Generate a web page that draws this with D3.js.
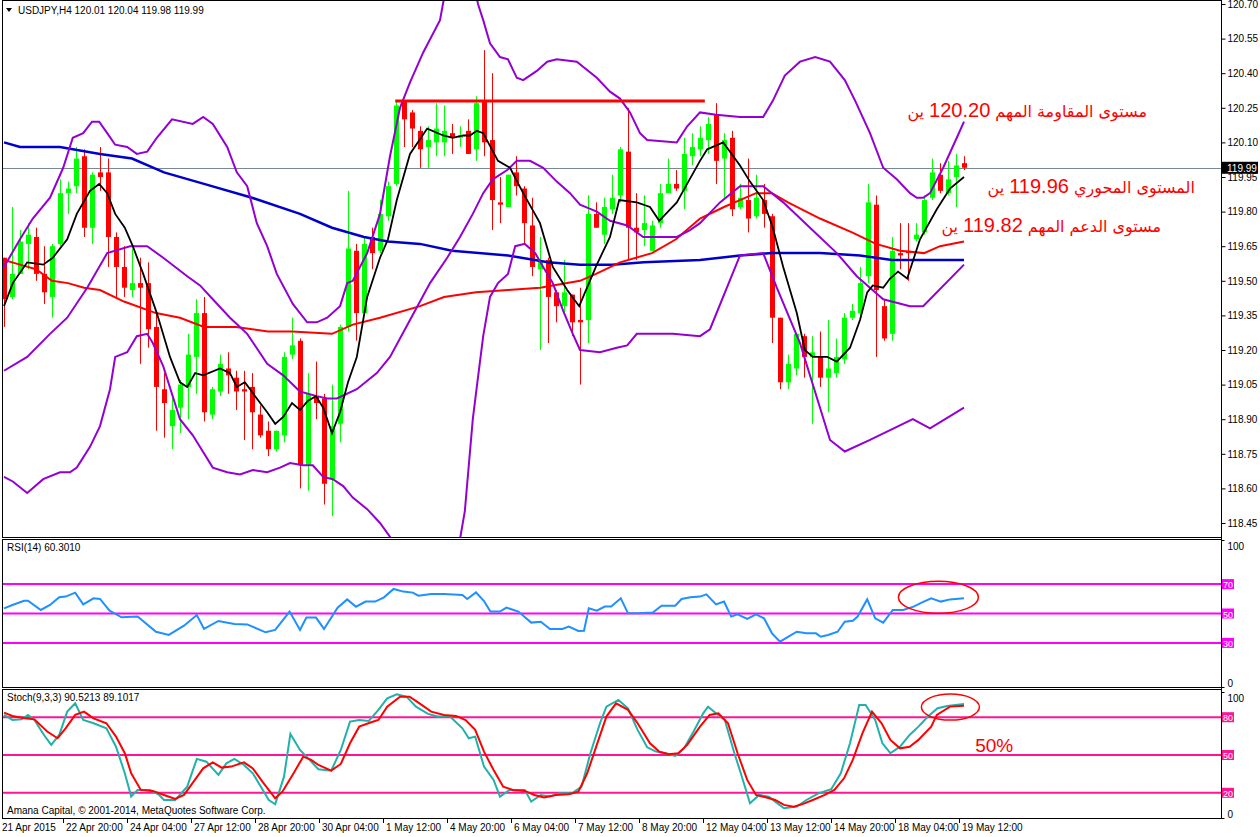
<!DOCTYPE html>
<html>
<head>
<meta charset="utf-8">
<script src="https://cdn.jsdelivr.net/npm/d3@7"></script>
<style>
  body { margin: 0; background: #fff; }
  svg { display: block; font-family: "Liberation Sans", Arial, sans-serif; }
</style>
</head>
<body>
<svg id="chart" width="1260" height="837"></svg>
<script>
// USDJPY H4 candles, bar 0 = 21 Apr 2015
const opens = [119.60,119.43,119.53,119.66,119.69,119.53,119.43,119.66,119.88,119.91,120.04,119.73,119.97,119.97,119.69,119.56,119.46,119.49,119.49,119.30,
  119.03,118.87,118.95,119.04,119.17,119.36,118.92,119.02,119.12,119.08,119.03,119.04,118.92,118.85,118.77,118.83,119.18,119.24,118.70,119.00,
  118.99,118.64,118.88,119.30,119.63,119.36,119.69,119.63,119.78,119.92,120.28,120.23,120.15,120.08,120.10,120.10,120.14,120.12,120.15,120.07,
  120.28,120.11,119.84,119.82,119.97,119.90,119.74,119.55,119.59,119.45,119.39,119.44,119.33,119.33,119.79,119.70,119.81,119.87,120.06,119.73,
  119.72,119.63,119.75,119.88,119.92,119.89,120.04,120.07,120.11,120.22,120.03,120.12,119.82,119.85,119.78,119.85,119.78,119.34,119.06,119.12,
  119.26,119.17,119.17,119.08,119.10,119.16,119.34,119.36,119.52,119.83,119.39,119.27,119.62,119.63,119.68,119.71,119.86,119.96,119.88,119.95,120.01];
const highs = [119.60,119.82,119.72,119.75,119.73,119.65,119.66,119.94,119.93,120.08,120.07,119.97,120.08,120.03,119.71,119.65,119.64,119.60,119.58,119.36,
  119.10,118.99,119.07,119.27,119.42,119.43,119.04,119.18,119.19,119.11,119.11,119.10,118.96,118.89,118.85,119.19,119.34,119.25,119.10,119.15,
  119.01,119.05,119.31,119.89,119.66,119.69,119.73,119.85,119.93,120.28,120.28,120.24,120.17,120.17,120.27,120.26,120.18,120.17,120.20,120.30,
  120.50,120.40,119.95,119.96,120.04,119.91,119.86,119.69,119.60,119.46,119.59,119.44,119.47,119.87,119.84,119.86,119.96,120.08,120.25,119.88,
  119.87,119.76,119.92,120.03,119.98,120.12,120.14,120.17,120.21,120.27,120.14,120.15,119.92,120.03,119.96,119.92,119.79,119.34,119.18,119.27,
  119.27,119.26,119.28,119.33,119.25,119.36,119.40,119.56,119.92,119.87,119.42,119.69,119.75,119.75,119.75,119.87,120.03,120.01,120.02,120.05,120.04];
const lows = [119.30,119.42,119.53,119.55,119.50,119.40,119.34,119.65,119.79,119.88,119.69,119.66,119.89,119.56,119.43,119.43,119.43,119.14,119.21,118.85,
  118.82,118.77,118.84,118.90,119.01,118.89,118.90,119.00,119.01,118.94,118.81,118.77,118.82,118.74,118.76,118.80,119.16,118.60,118.59,118.90,
  118.53,118.48,118.80,119.28,119.24,119.36,119.55,119.62,119.76,119.91,120.08,120.08,119.99,119.99,120.04,120.04,120.05,120.08,120.05,120.02,
  120.04,119.72,119.75,119.82,119.87,119.66,119.52,119.20,119.23,119.32,119.36,119.26,119.05,119.23,119.73,119.66,119.79,119.84,119.59,119.59,
  119.65,119.63,119.73,119.88,119.89,119.81,120.00,120.04,120.05,119.92,119.86,119.78,119.81,119.71,119.77,119.73,119.23,119.03,119.03,119.09,
  119.08,118.88,119.04,118.93,119.08,119.14,119.33,119.33,119.49,119.17,119.24,119.24,119.55,119.50,119.67,119.70,119.85,119.88,119.87,119.82,119.98];
const closes = [119.42,119.53,119.67,119.70,119.53,119.45,119.65,119.88,119.90,120.03,119.73,119.96,119.95,119.69,119.56,119.47,119.49,119.47,119.29,119.04,
  118.97,118.94,119.05,119.18,119.36,118.93,119.03,119.14,119.09,119.02,119.02,118.93,118.83,118.77,118.85,119.17,119.22,118.70,119.01,118.97,
  118.62,118.87,119.30,119.64,119.36,119.66,119.62,119.79,119.91,120.26,120.20,120.16,120.07,120.11,120.16,120.15,120.12,120.13,120.05,120.27,
  120.10,119.85,119.83,119.96,119.91,119.75,119.56,119.59,119.43,119.39,119.45,119.32,119.32,119.79,119.73,119.82,119.86,120.07,119.73,119.71,
  119.75,119.74,119.88,119.92,119.90,120.05,120.08,120.12,120.18,120.02,120.11,119.81,119.86,119.77,119.86,119.79,119.34,119.06,119.14,119.27,
  119.17,119.19,119.08,119.12,119.17,119.34,119.37,119.49,119.84,119.46,119.25,119.63,119.61,119.62,119.70,119.85,119.97,119.89,119.94,120.00,119.99];

// indicator lines, read as [bar, value]
const fastMa = [[0,119.39],[1.1,119.49],[2.9,119.58],[4.9,119.57],[6.1,119.60],[7.9,119.68],[9.1,119.79],[10.75,119.89],[11.9,119.92],[12.9,119.88],
  [13.9,119.79],[15.1,119.73],[16.1,119.65],[17.4,119.53],[19.1,119.36],[20.75,119.17],[22,119.06],[22.9,119.04],[23.9,119.10],[24.9,119.09],
  [27,119.12],[28.25,119.10],[29.1,119.04],[30.1,119.06],[31.6,118.99],[32.9,118.93],[33.9,118.88],[34.9,118.91],[36,118.97],[37,118.94],
  [38,118.98],[39,119.00],[39.9,118.95],[41,118.84],[42,118.93],[43,119.06],[44.1,119.17],[45.4,119.43],[47,119.60],[48,119.68],
  [49.1,119.85],[50.75,120.05],[52.9,120.16],[54.9,120.13],[56.1,120.12],[57.4,120.13],[58.25,120.13],[59.1,120.15],[59.9,120.14],[61.75,120.02],
  [63.25,119.99],[64.9,119.88],[67,119.75],[68.6,119.56],[70.4,119.46],[71.9,119.39],[74.1,119.57],[75.75,119.69],[76.9,119.85],[79.1,119.84],
  [80.75,119.82],[81.9,119.76],[84.1,119.84],[84.9,119.89],[87,120.02],[87.9,120.07],[89.9,120.10],[92,120.00],[93.25,119.93],[94.9,119.85],
  [96.1,119.73],[97.4,119.56],[99.1,119.36],[100.1,119.20],[101.1,119.17],[102.9,119.17],[104.1,119.15],[105.75,119.21],[107,119.33],[107.9,119.45],
  [108.6,119.48],[109.9,119.47],[110.75,119.51],[111.75,119.54],[112.9,119.51],[114.5,119.68],[116.6,119.81],[118.25,119.90],[120,119.95]];
const midMa = [[0,119.59],[2,119.57],[4,119.55],[6,119.50],[8,119.49],[10,119.47],[12,119.46],[15,119.41],[19,119.36],[22,119.34],
  [25,119.30],[29,119.30],[33,119.28],[36,119.28],[41,119.27],[43.6,119.31],[47,119.34],[52,119.39],[55,119.43],[59,119.45],
  [63,119.46],[67,119.47],[72,119.50],[74,119.53],[77,119.58],[81,119.62],[84,119.68],[87,119.77],[90,119.82],[94,119.88],
  [96,119.88],[98,119.84],[102,119.77],[106,119.71],[109,119.66],[112,119.63],[115,119.62],[117,119.65],[120,119.67]];
const slowMa = [[0,120.10],[2,120.08],[7,120.08],[12,120.05],[16,120.03],[20,119.97],[25,119.92],[31,119.86],[37,119.79],[41,119.73],
  [45,119.69],[48,119.67],[52,119.66],[56,119.63],[63,119.61],[68,119.58],[72,119.57],[76,119.57],[80,119.58],[87,119.59],
  [92,119.61],[96,119.62],[102,119.62],[107,119.61],[111,119.59],[120,119.59]];
const bbUpper = [[0,119.56],[2,119.68],[3.6,119.77],[5.75,119.86],[7.4,119.99],[8.6,120.12],[9.9,120.14],[11,120.19],[11.9,120.19],[12.9,120.14],
  [13.9,120.09],[15.4,120.08],[16.6,120.05],[17.9,120.06],[19.1,120.12],[21,120.20],[23.6,120.18],[24.9,120.21],[26.1,120.18],[27.9,120.08],
  [29.1,119.97],[30.4,119.91],[31.6,119.75],[32.9,119.65],[34.1,119.53],[36.1,119.40],[37.9,119.32],[39.1,119.32],[40.4,119.34],[42,119.39],
  [42.9,119.49],[43.6,119.50],[45.4,119.62],[47,119.79],[48.25,120.04],[49.5,120.25],[50.75,120.36],[52.4,120.49],[54.5,120.63],[55.5,120.82],
  [56.5,120.95],[57.5,120.95],[58.5,120.82],[59.25,120.70],[59.9,120.63],[60.75,120.53],[62,120.47],[63,120.46],[64.1,120.38],[64.9,120.37],
  [66.6,120.41],[67.9,120.45],[69.1,120.46],[71.6,120.45],[74.1,120.38],[75.75,120.32],[77,120.29],[78.25,120.23],[79.5,120.14],[80.4,120.11],
  [84.1,120.10],[85.4,120.17],[87,120.23],[89,120.22],[92,120.21],[94.9,120.21],[96.1,120.28],[97.6,120.39],[99.5,120.45],[101.4,120.47],
  [103.25,120.45],[105.1,120.37],[106.4,120.28],[108.25,120.14],[109.9,119.99],[111.6,119.94],[113.25,119.88],[114.1,119.86],[114.9,119.86],[115.75,119.88],
  [117.4,119.99],[119.1,120.12],[120,120.19]];
const bbMiddle = [[0,119.11],[2.9,119.17],[5.75,119.27],[7.9,119.34],[10.4,119.47],[12.9,119.62],[15.75,119.65],[17.9,119.65],[19.9,119.60],[22.9,119.52],
  [24.5,119.48],[26.1,119.42],[28.25,119.34],[30.4,119.27],[32.9,119.14],[34.9,119.09],[37,119.02],[39.1,119.00],[40.4,118.99],[41.6,118.99],
  [44.1,119.03],[46.6,119.10],[48.25,119.17],[50.75,119.33],[53.25,119.49],[55.4,119.60],[57,119.69],[58.6,119.79],[59.9,119.88],[61.1,119.94],
  [62.9,119.98],[64.1,120.02],[65.75,120.02],[67.4,119.99],[69.1,119.93],[70.75,119.88],[72,119.83],[74.1,119.80],[75.75,119.76],[77.9,119.74],
  [79.9,119.69],[82.4,119.69],[84.1,119.69],[85.75,119.72],[87,119.75],[89.5,119.84],[92,119.91],[94.9,119.91],[97.4,119.84],[100.75,119.73],
  [104.1,119.62],[106.6,119.52],[109.9,119.42],[113.25,119.39],[114.9,119.39],[120,119.57]];
const bbLower = [[0,118.65],[1.1,118.63],[2.9,118.58],[4.9,118.64],[7,118.67],[8.25,118.67],[9.1,118.69],[10.75,118.78],[12,118.87],[13.25,119.03],
  [13.9,119.17],[15.4,119.19],[16.6,119.26],[17.9,119.27],[18.6,119.23],[19.9,119.13],[22,118.90],[23.6,118.83],[26.1,118.69],[27.9,118.67],
  [29.5,118.66],[31.1,118.68],[32.9,118.67],[34.5,118.69],[35.75,118.71],[37.4,118.70],[38.6,118.70],[39.9,118.65],[41.1,118.64],[42.4,118.61],
  [43.6,118.56],[45.4,118.51],[47,118.45],[48.25,118.39],[49.5,118.32],[51,118.22],[53,118.15],[55,118.15],[56.5,118.28],[57.6,118.50],
  [58.6,118.90],[59.1,119.04],[59.9,119.26],[60.75,119.43],[61.75,119.49],[63,119.53],[63.9,119.65],[65.1,119.66],[66.4,119.62],[67.4,119.56],
  [68.6,119.49],[69.9,119.37],[71.1,119.27],[72,119.20],[74.5,119.19],[76.6,119.21],[77.9,119.22],[79.1,119.27],[80.4,119.27],[83.6,119.27],
  [87,119.26],[88.25,119.29],[92,119.61],[94.9,119.62],[96.6,119.47],[99.5,119.23],[103.25,118.81],[105.1,118.76],[108.25,118.81],[113.6,118.90],
  [115.75,118.86],[120,118.95]];

const rsi = [[0,53.5],[1.06,55.8],[2.5,58.7],[3,58.7],[4.6,52.4],[5.75,55.8],[6.9,61.0],[7.7,61.5],[8.9,64.2],[9.9,56.2],
  [11.2,60.3],[12,59.9],[13.2,51.9],[14.7,47.4],[16.7,47.9],[19,37.6],[20.6,35.4],[22.5,41.7],[24.1,49.0],[25,39.5],
  [26.8,44.9],[28.8,42.9],[30.4,42.6],[32.7,37.2],[33.9,38.8],[35.7,51.3],[37,38.8],[37.8,47.2],[39,47.2],[40,39.5],
  [41.7,54.0],[42.9,59.6],[44,54.6],[45.2,58.1],[46.4,58.1],[47.5,61.0],[48.7,66.7],[49.9,64.9],[51.1,64.2],[51.8,62.1],
  [53.4,63.3],[55,63.3],[57.3,62.6],[57.9,59.9],[59,64.4],[60,58.5],[60.8,51.3],[62,51.3],[62.8,54.0],[64.3,51.3],
  [65.9,43.8],[67.1,44.4],[68.25,39.5],[69.8,39.5],[70.6,41.1],[71.8,38.1],[72.5,38.3],[73.1,53.5],[74.1,51.9],[75.1,54.7],
  [75.9,54.7],[77.1,60.3],[78,50.1],[79.2,50.1],[81.1,50.6],[82.2,55.3],[83.9,55.3],[84.7,59.9],[85.8,61.0],[87,61.5],
  [87.8,63.0],[89,56.2],[90,58.1],[90.9,47.9],[91.7,49.4],[92.9,46.3],[94,49.4],[95,46.7],[96,36.5],[97,30.8],
  [97.9,33.8],[99.1,37.6],[100.3,36.5],[101.5,36.5],[102.1,34.2],[103,35.4],[104.2,37.6],[105.1,44.4],[106.1,45.1],[106.7,47.9],
  [107.9,59.6],[108.9,46.7],[109.9,43.8],[111.1,52.4],[112.4,52.4],[113.7,54.7],[114.7,57.4],[115.9,60.3],[117.1,58.1],[118.25,59.6],[120,60.3]];

const stochMain = [[0,81.8],[1.06,77.8],[2.2,78.3],[3,81.8],[3.8,77.8],[5,65.9],[5.9,58.0],[6.9,65.9],[7.9,84.4],[8.9,91.0],
  [9.9,77.8],[11.2,75.2],[12.8,71.2],[14,56.6],[15.1,35.5],[15.9,17.0],[16.7,22.3],[18.25,22.3],[19.4,18.3],[20,14.3],
  [21.4,14.3],[22.9,24.9],[24.1,46.9],[25.3,44.7],[26.8,34.2],[27.8,43.4],[28.8,46.9],[30,42.1],[31.1,35.5],[33.1,14.3],
  [33.9,10.9],[35,32.8],[35.8,66.7],[37,54.0],[38.2,46.1],[39.3,38.7],[40.9,37.6],[42.1,54.0],[43.25,76.5],[44.4,77.8],
  [45.6,77.0],[46.8,85.8],[47.9,95.0],[49.1,98.2],[50.3,96.3],[51.5,88.4],[53,82.6],[54.2,80.5],[55.75,80.5],[57.3,71.2],
  [58.1,63.3],[58.9,64.6],[60,40.8],[61.2,30.2],[62,17.0],[63.2,22.3],[65.1,22.3],[65.9,13.0],[67.1,18.3],[68.25,17.0],
  [69.4,19.6],[71,19.6],[72.2,24.9],[73.3,51.4],[74.5,75.2],[75.3,88.4],[76.8,93.7],[78,87.1],[79.2,69.9],[80.4,56.1],
  [81.5,52.7],[82.7,51.4],[83.9,49.2],[85,55.3],[86.2,68.6],[87.4,83.1],[88,88.4],[89,83.1],[90.1,77.8],[91.3,51.4],
  [92.1,35.5],[93.25,11.7],[94.4,18.3],[95.6,17.0],[96.4,13.0],[97.5,7.7],[99.1,9.0],[100.3,14.3],[101.8,19.6],[103.4,22.8],
  [104.6,35.5],[105.75,59.3],[106.9,89.7],[107.7,89.7],[108.9,77.8],[109.8,59.3],[110.8,51.4],[112,56.6],[113.2,65.9],[114.3,72.5],
  [115.5,80.5],[116.7,87.1],[117.9,88.9],[120,90.5]];
const stochSignal = [[0,83.6],[1.06,81.0],[2.6,79.1],[3.8,78.3],[5.4,68.6],[6.7,63.3],[7.7,71.2],[8.9,81.8],[10,84.4],[11.2,79.1],
  [12.8,75.2],[14,64.6],[15.1,51.4],[15.9,35.5],[17.1,22.3],[18.6,21.5],[20,18.3],[21.4,15.1],[22.5,18.3],[23.7,28.9],
  [24.9,39.4],[26.1,44.2],[27.2,40.0],[28.4,40.8],[30,44.2],[31.1,39.4],[32.3,28.9],[33.9,15.6],[34.8,20.9],[36.2,35.5],
  [37.4,48.7],[38.4,46.1],[39.3,42.1],[40.9,37.6],[42.1,42.9],[43.25,59.3],[44.4,72.5],[46,76.2],[46.8,77.8],[47.9,88.4],
  [49.5,96.3],[50.7,96.3],[51.8,91.6],[53.4,84.4],[55,81.8],[56.5,81.0],[57.7,77.8],[58.9,69.9],[60,52.7],[61.2,38.1],
  [62.4,24.9],[63.6,22.3],[65.1,21.5],[66.3,18.3],[67.5,16.2],[69,18.3],[70.6,18.8],[71.8,20.9],[72.9,35.5],[74.1,58.0],
  [75.3,80.5],[76.5,91.0],[78,85.8],[79.2,75.2],[80.75,59.3],[81.9,52.7],[83.1,50.6],[84.3,51.4],[85.4,58.0],[87,72.5],
  [88.2,81.8],[89.3,83.1],[90.5,75.2],[91.7,51.4],[92.9,30.2],[94,18.3],[95.2,16.4],[96.4,14.3],[97.5,10.4],[98.7,9.0],
  [99.9,11.2],[101.1,14.3],[102.6,18.3],[103.8,22.3],[105,31.5],[106.1,46.1],[107.3,67.2],[108.5,84.4],[109.7,75.2],[110.8,62.0],
  [112,55.3],[113.2,56.6],[114.3,62.0],[115.9,72.5],[116.6,81.8],[118.25,88.4],[120,89.1]];

const priceTicks = [120.70,120.55,120.40,120.25,120.10,119.95,119.80,119.65,119.50,119.35,119.20,119.05,118.90,118.75,118.60,118.45];
const rsiLevels = [70, 50, 30];
const stochLevels = [80, 50, 20];
const timeBars = [0,8,16,24,32,40,48,56,64,72,80,88,96,104,112,120];
const timeLabels = ["21 Apr 2015","22 Apr 20:00","24 Apr 04:00","27 Apr 12:00","28 Apr 20:00","30 Apr 04:00","1 May 12:00","4 May 20:00",
  "6 May 04:00","7 May 12:00","8 May 20:00","12 May 04:00","13 May 12:00","14 May 20:00","18 May 04:00","19 May 12:00"];
const bidPrice = 119.99;
const resistance = { from: 48.9, to: 87.6, price: 120.28 };
const notes = [
  { label: "مستوى المقاومة المهم", value: "120.20", unit: "ين", bar: 127.9, price: 120.21 },
  { label: "المستوى المحوري", value: "119.96", unit: "ين", bar: 135.9, price: 119.88 },
  { label: "مستوى الدعم المهم", value: "119.82", unit: "ين", bar: 130.9, price: 119.71 }
];

const svg = d3.select("#chart");
const left = 2, right = 1221;
const x = d3.scaleLinear().domain([-0.25, 152.125]).range([left, right]);
const y = d3.scaleLinear().domain([118.45, 120.70]).range([523, 4]);
const yRsi = d3.scaleLinear().domain([0, 100]).range([687, 540]);
const ySto = d3.scaleLinear().domain([0, 100]).range([818, 692]);

const panels = [
  { id: "clipMain", top: 0, bottom: 537 },
  { id: "clipRsi", top: 539, bottom: 687 },
  { id: "clipSto", top: 689, bottom: 818 }
];
const defs = svg.append("defs");
panels.forEach(p => {
  defs.append("clipPath").attr("id", p.id).append("rect")
    .attr("x", left).attr("y", p.top).attr("width", right - left).attr("height", p.bottom - p.top);
});

const line = (ys) => d3.line().x(d => x(d[0])).y(d => ys(d[1]));

// ---- main panel ----
const main = svg.append("g").attr("clip-path", "url(#clipMain)");

main.append("line")
  .attr("x1", left).attr("x2", right)
  .attr("y1", Math.round(y(bidPrice)) + 0.5).attr("y2", Math.round(y(bidPrice)) + 0.5)
  .attr("stroke", "#778899").attr("stroke-width", 1);

const idx = d3.range(opens.length);
const up = i => closes[i] >= opens[i];
const col = i => up(i) ? "#00ff00" : "#ff0000";

main.selectAll("line.wick").data(idx).join("line")
  .attr("class", "wick")
  .attr("x1", i => x(i) + 0.5).attr("x2", i => x(i) + 0.5)
  .attr("y1", i => y(highs[i])).attr("y2", i => y(lows[i]))
  .attr("stroke", col).attr("stroke-width", 1);

main.selectAll("rect.body").data(idx).join("rect")
  .attr("class", "body")
  .attr("x", i => x(i) - 2)
  .attr("width", 5)
  .attr("y", i => y(Math.max(opens[i], closes[i])))
  .attr("height", i => Math.max(1.5, Math.abs(y(opens[i]) - y(closes[i]))))
  .attr("fill", col);

main.append("path").datum(slowMa).attr("d", line(y))
  .attr("fill", "none").attr("stroke", "#0000cd").attr("stroke-width", 2.5);
main.append("path").datum(midMa).attr("d", line(y))
  .attr("fill", "none").attr("stroke", "#ff0000").attr("stroke-width", 2);
[bbUpper, bbMiddle, bbLower].forEach(s => {
  main.append("path").datum(s).attr("d", line(y))
    .attr("fill", "none").attr("stroke", "#9400d3").attr("stroke-width", 2);
});
main.append("path").datum(fastMa).attr("d", line(y))
  .attr("fill", "none").attr("stroke", "#000").attr("stroke-width", 1.8);

main.append("line")
  .attr("x1", x(resistance.from)).attr("x2", x(resistance.to))
  .attr("y1", y(resistance.price)).attr("y2", y(resistance.price))
  .attr("stroke", "#ff0000").attr("stroke-width", 3);

// Arabic notes: word part smaller, number larger
const noteText = svg.append("g").selectAll("text.note").data(notes).join("text")
  .attr("class", "note")
  .attr("x", d => x(d.bar)).attr("y", d => y(d.price))
  .attr("text-anchor", "middle")
  .attr("direction", "rtl")
  .attr("fill", "#ff0000");
noteText.append("tspan")
  .style("font-family", "'DejaVu Sans', sans-serif").style("font-size", "16px")
  .text(d => d.label + " ");
noteText.append("tspan")
  .style("font-family", "'Liberation Sans', Arial, sans-serif").style("font-size", "20px")
  .text(d => d.value);
noteText.append("tspan")
  .style("font-family", "'DejaVu Sans', sans-serif").style("font-size", "16px")
  .text(d => " " + d.unit);

// header
svg.append("path").attr("d", "M6,8 L12,8 L9,12 Z").attr("fill", "#000");
svg.append("text").attr("x", 18).attr("y", 14).style("font-size", "10px")
  .text("USDJPY,H4  120.01 120.04 119.98 119.99");

// ---- RSI panel ----
const rsiG = svg.append("g").attr("clip-path", "url(#clipRsi)");
rsiG.selectAll("line.lvl").data(rsiLevels).join("line")
  .attr("x1", left).attr("x2", right)
  .attr("y1", d => yRsi(d)).attr("y2", d => yRsi(d))
  .attr("stroke", "#ff00ff").attr("stroke-width", 2);
rsiG.append("path").datum(rsi).attr("d", line(yRsi))
  .attr("fill", "none").attr("stroke", "#1e90ff").attr("stroke-width", 2);
svg.append("text").attr("x", 7).attr("y", 551).style("font-size", "10px").text("RSI(14) 60.3010");

// ---- Stochastic panel ----
const stoG = svg.append("g").attr("clip-path", "url(#clipSto)");
stoG.selectAll("line.lvl").data(stochLevels).join("line")
  .attr("x1", left).attr("x2", right)
  .attr("y1", d => ySto(d)).attr("y2", d => ySto(d))
  .attr("stroke", "#ff1493").attr("stroke-width", 2);
stoG.append("path").datum(stochMain).attr("d", line(ySto))
  .attr("fill", "none").attr("stroke", "#20b2aa").attr("stroke-width", 2);
stoG.append("path").datum(stochSignal).attr("d", line(ySto))
  .attr("fill", "none").attr("stroke", "#ff0000").attr("stroke-width", 2);
svg.append("text").attr("x", 7).attr("y", 701).style("font-size", "10px").text("Stoch(9,3,3) 90.5213 89.1017");
svg.append("text").attr("x", 7).attr("y", 814).style("font-size", "10px")
  .text("Amana Capital, © 2001-2014, MetaQuotes Software Corp.");

// annotation marks
svg.append("ellipse").attr("cx", x(116.8)).attr("cy", yRsi(61)).attr("rx", 40).attr("ry", 16)
  .attr("fill", "none").attr("stroke", "#ff0000").attr("stroke-width", 1.5);
svg.append("ellipse").attr("cx", x(118.3)).attr("cy", ySto(88)).attr("rx", 29).attr("ry", 13)
  .attr("fill", "none").attr("stroke", "#ff0000").attr("stroke-width", 1.5);
svg.append("text").attr("x", x(121.4)).attr("y", ySto(50) - 3).attr("fill", "#ff0000")
  .style("font-size", "19px").text("50%");

// ---- frames ----
panels.forEach(p => {
  svg.append("rect").attr("x", left + 0.5).attr("y", p.top + 0.5)
    .attr("width", right - left).attr("height", p.bottom - p.top)
    .attr("fill", "none").attr("stroke", "#000").attr("stroke-width", 1);
});

// ---- right axes ----
const axisFont = g => g.call(s => s.select(".domain").remove())
  .call(s => s.selectAll("text").style("font-size", "10px").attr("fill", "#000").attr("x", 6))
  .call(s => s.selectAll("line").attr("stroke", "#000"));

svg.append("g").attr("transform", `translate(${right + 0.5},0)`)
  .call(d3.axisRight(y).tickValues(priceTicks).tickFormat(d3.format(".2f")).tickSize(4))
  .call(axisFont);

svg.append("g").attr("transform", `translate(${right + 0.5},0)`)
  .call(d3.axisRight(yRsi).tickValues([100, 0]).tickSize(3))
  .call(axisFont)
  .call(s => s.selectAll("text").attr("dy", d => d === 100 ? "0.9em" : "-0.1em"));
svg.append("g").attr("transform", `translate(${right + 0.5},0)`)
  .call(d3.axisRight(ySto).tickValues([100, 0]).tickSize(3))
  .call(axisFont)
  .call(s => s.selectAll("text").attr("dy", d => d === 100 ? "0.9em" : "-0.1em"));

function levelTags(levels, ys, color) {
  const g = svg.append("g");
  g.selectAll("rect").data(levels).join("rect")
    .attr("x", right + 1).attr("y", d => ys(d) - 5).attr("width", 12).attr("height", 10)
    .attr("fill", color);
  g.selectAll("text").data(levels).join("text")
    .attr("x", right + 2).attr("y", d => ys(d) + 4)
    .attr("fill", "#fff").style("font-size", "9px").text(d => d);
}
levelTags(rsiLevels, yRsi, "#ff00ff");
levelTags(stochLevels, ySto, "#ff1493");

// bid tag
svg.append("rect").attr("x", right + 1).attr("y", y(bidPrice) - 6).attr("width", 36).attr("height", 12).attr("fill", "#000");
svg.append("text").attr("x", right + 6).attr("y", y(bidPrice) + 4).attr("fill", "#fff")
  .style("font-size", "10px").text(bidPrice.toFixed(2));

svg.append("line").attr("x1", right + 0.5).attr("x2", right + 0.5).attr("y1", 0).attr("y2", 819)
  .attr("stroke", "#000");

// ---- time axis ----
const tg = svg.append("g");
tg.selectAll("line").data(timeBars.slice(1)).join("line")
  .attr("x1", b => x(b) - 4.5).attr("x2", b => x(b) - 4.5)
  .attr("y1", 819).attr("y2", 823).attr("stroke", "#000");
tg.selectAll("text").data(timeBars).join("text")
  .attr("x", b => x(b) - 2).attr("y", 831)
  .style("font-size", "10px").text((b, i) => timeLabels[i]);
</script>
</body>
</html>
